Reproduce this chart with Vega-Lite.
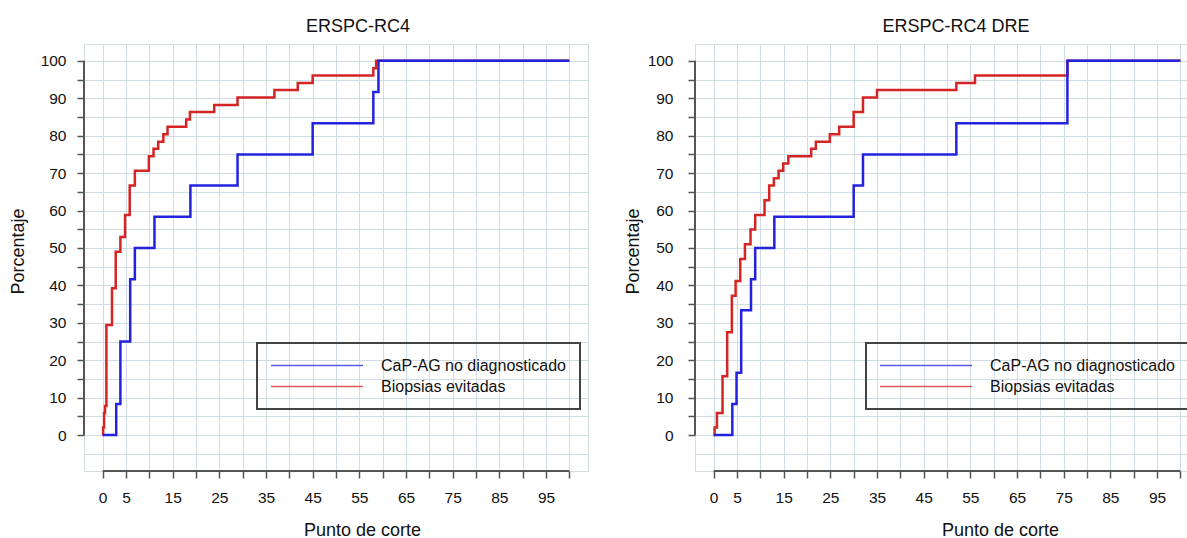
{
  "$schema": "https://vega.github.io/schema/vega-lite/v6.json",
  "padding": {"left": 8, "top": 17, "right": 0, "bottom": 0},
  "bounds": "flush",
  "spacing": 107,
  "resolve": {"scale": {"color": "independent"}, "legend": {"color": "independent"}},
  "datasets": {
    "rc4": [
      {"serie": "CaP-AG no diagnosticado", "corte": 0, "pct": 0},
      {"serie": "CaP-AG no diagnosticado", "corte": 2.9, "pct": 8.33},
      {"serie": "CaP-AG no diagnosticado", "corte": 3.8, "pct": 25},
      {"serie": "CaP-AG no diagnosticado", "corte": 5.9, "pct": 41.67},
      {"serie": "CaP-AG no diagnosticado", "corte": 6.9, "pct": 50},
      {"serie": "CaP-AG no diagnosticado", "corte": 11.1, "pct": 58.33},
      {"serie": "CaP-AG no diagnosticado", "corte": 18.8, "pct": 66.67},
      {"serie": "CaP-AG no diagnosticado", "corte": 28.9, "pct": 75},
      {"serie": "CaP-AG no diagnosticado", "corte": 45, "pct": 83.33},
      {"serie": "CaP-AG no diagnosticado", "corte": 58, "pct": 91.67},
      {"serie": "CaP-AG no diagnosticado", "corte": 59.1, "pct": 100},
      {"serie": "CaP-AG no diagnosticado", "corte": 100, "pct": 100},
      {"serie": "Biopsias evitadas", "corte": 0, "pct": 0},
      {"serie": "Biopsias evitadas", "corte": 0.1, "pct": 2},
      {"serie": "Biopsias evitadas", "corte": 0.3, "pct": 5.9},
      {"serie": "Biopsias evitadas", "corte": 0.5, "pct": 7.8},
      {"serie": "Biopsias evitadas", "corte": 0.8, "pct": 29.4},
      {"serie": "Biopsias evitadas", "corte": 2.0, "pct": 39.2},
      {"serie": "Biopsias evitadas", "corte": 2.8, "pct": 49.0},
      {"serie": "Biopsias evitadas", "corte": 3.8, "pct": 52.9},
      {"serie": "Biopsias evitadas", "corte": 4.8, "pct": 58.8},
      {"serie": "Biopsias evitadas", "corte": 5.8, "pct": 66.7},
      {"serie": "Biopsias evitadas", "corte": 6.9, "pct": 70.6},
      {"serie": "Biopsias evitadas", "corte": 9.9, "pct": 74.5},
      {"serie": "Biopsias evitadas", "corte": 10.9, "pct": 76.5},
      {"serie": "Biopsias evitadas", "corte": 11.9, "pct": 78.4},
      {"serie": "Biopsias evitadas", "corte": 13.0, "pct": 80.4},
      {"serie": "Biopsias evitadas", "corte": 13.9, "pct": 82.4},
      {"serie": "Biopsias evitadas", "corte": 17.9, "pct": 84.3},
      {"serie": "Biopsias evitadas", "corte": 18.7, "pct": 86.3},
      {"serie": "Biopsias evitadas", "corte": 23.9, "pct": 88.2},
      {"serie": "Biopsias evitadas", "corte": 28.9, "pct": 90.2},
      {"serie": "Biopsias evitadas", "corte": 36.8, "pct": 92.2},
      {"serie": "Biopsias evitadas", "corte": 41.8, "pct": 94.1},
      {"serie": "Biopsias evitadas", "corte": 45.0, "pct": 96.1},
      {"serie": "Biopsias evitadas", "corte": 58.0, "pct": 98.0},
      {"serie": "Biopsias evitadas", "corte": 58.6, "pct": 100},
      {"serie": "Biopsias evitadas", "corte": 100, "pct": 100}
    ],
    "rc4dre": [
      {"serie": "CaP-AG no diagnosticado", "corte": 0, "pct": 0},
      {"serie": "CaP-AG no diagnosticado", "corte": 4.0, "pct": 8.33},
      {"serie": "CaP-AG no diagnosticado", "corte": 4.9, "pct": 16.67},
      {"serie": "CaP-AG no diagnosticado", "corte": 5.9, "pct": 33.33},
      {"serie": "CaP-AG no diagnosticado", "corte": 8.0, "pct": 41.67},
      {"serie": "CaP-AG no diagnosticado", "corte": 8.9, "pct": 50},
      {"serie": "CaP-AG no diagnosticado", "corte": 13.0, "pct": 58.33},
      {"serie": "CaP-AG no diagnosticado", "corte": 30.0, "pct": 66.67},
      {"serie": "CaP-AG no diagnosticado", "corte": 32.0, "pct": 75},
      {"serie": "CaP-AG no diagnosticado", "corte": 52.0, "pct": 83.33},
      {"serie": "CaP-AG no diagnosticado", "corte": 75.8, "pct": 100},
      {"serie": "CaP-AG no diagnosticado", "corte": 100, "pct": 100},
      {"serie": "Biopsias evitadas", "corte": 0, "pct": 0},
      {"serie": "Biopsias evitadas", "corte": 0.2, "pct": 2.0},
      {"serie": "Biopsias evitadas", "corte": 0.7, "pct": 5.9},
      {"serie": "Biopsias evitadas", "corte": 1.9, "pct": 15.7},
      {"serie": "Biopsias evitadas", "corte": 2.9, "pct": 27.45},
      {"serie": "Biopsias evitadas", "corte": 3.9, "pct": 37.25},
      {"serie": "Biopsias evitadas", "corte": 4.7, "pct": 41.18},
      {"serie": "Biopsias evitadas", "corte": 5.7, "pct": 47.06},
      {"serie": "Biopsias evitadas", "corte": 6.7, "pct": 50.98},
      {"serie": "Biopsias evitadas", "corte": 7.9, "pct": 54.9},
      {"serie": "Biopsias evitadas", "corte": 8.9, "pct": 58.8},
      {"serie": "Biopsias evitadas", "corte": 10.9, "pct": 62.75},
      {"serie": "Biopsias evitadas", "corte": 11.9, "pct": 66.67},
      {"serie": "Biopsias evitadas", "corte": 12.9, "pct": 68.6},
      {"serie": "Biopsias evitadas", "corte": 13.9, "pct": 70.6},
      {"serie": "Biopsias evitadas", "corte": 14.9, "pct": 72.55},
      {"serie": "Biopsias evitadas", "corte": 16.0, "pct": 74.5},
      {"serie": "Biopsias evitadas", "corte": 20.9, "pct": 76.5},
      {"serie": "Biopsias evitadas", "corte": 21.9, "pct": 78.4},
      {"serie": "Biopsias evitadas", "corte": 24.9, "pct": 80.4},
      {"serie": "Biopsias evitadas", "corte": 26.9, "pct": 82.4},
      {"serie": "Biopsias evitadas", "corte": 30.0, "pct": 86.3},
      {"serie": "Biopsias evitadas", "corte": 32.0, "pct": 90.2},
      {"serie": "Biopsias evitadas", "corte": 35.0, "pct": 92.2},
      {"serie": "Biopsias evitadas", "corte": 52.0, "pct": 94.1},
      {"serie": "Biopsias evitadas", "corte": 56.0, "pct": 96.1},
      {"serie": "Biopsias evitadas", "corte": 75.8, "pct": 100},
      {"serie": "Biopsias evitadas", "corte": 100, "pct": 100}
    ]
  },
  "hconcat": [
    {
      "width": 504,
      "height": 427,
      "title": {"text": "ERSPC-RC4", "frame": "group", "dx": 22, "offset": 8},
      "data": {"name": "rc4"},
      "resolve": {"scale": {"x": "independent", "y": "independent"}},
      "layer": [
        {
          "data": {"values": [{}]},
          "mark": {"type": "rule", "color": "#555555", "strokeWidth": 2},
          "encoding": {
            "x": {"datum": -4, "scale": {"domain": [-4, 104], "nice": false, "zero": false}, "axis": null},
            "y": {"datum": 0, "scale": {"domain": [-9.6, 104.5], "nice": false, "zero": false}, "axis": null},
            "y2": {"datum": 100}
          }
        },
        {
          "data": {"values": [{}]},
          "mark": {"type": "rule", "color": "#555555", "strokeWidth": 2},
          "encoding": {
            "y": {"datum": -9.6, "scale": {"domain": [-9.6, 104.5], "nice": false, "zero": false}, "axis": null},
            "x": {"datum": 0, "scale": {"domain": [-4, 104], "nice": false, "zero": false}, "axis": null},
            "x2": {"datum": 100}
          }
        },
        {
          "transform": [{"filter": "datum.serie === 'Biopsias evitadas'"}],
          "mark": {"type": "line", "interpolate": "step-after", "strokeWidth": 2.5},
          "encoding": {
            "x": {"field": "corte", "type": "quantitative", "scale": {"domain": [-4, 104], "nice": false, "zero": false},
              "axis": {"orient": "bottom", "title": "Punto de corte", "titleX": 278, "titlePadding": 16, "labelOverlap": false, "grid": true,
                "values": [0,5,15,25,35,45,55,65,75,85,95]}},
            "y": {"field": "pct", "type": "quantitative", "scale": {"domain": [-9.6, 104.5], "nice": false, "zero": false},
              "axis": {"orient": "left", "title": "Porcentaje", "titleY": 207, "titlePadding": 13, "labelPadding": 11, "labelOverlap": false, "grid": true,
                "values": [0,10,20,30,40,50,60,70,80,90,100]}},
            "color": {"field": "serie", "type": "nominal",
              "scale": {"domain": ["CaP-AG no diagnosticado", "Biopsias evitadas"], "range": ["#2323dd", "#d42424"]},
              "legend": {"title": null, "orient": "none", "legendX": 173, "legendY": 299}}
          }
        },
        {
          "transform": [{"filter": "datum.serie === 'CaP-AG no diagnosticado'"}],
          "mark": {"type": "line", "interpolate": "step-after", "strokeWidth": 2.5},
          "encoding": {
            "x": {"field": "corte", "type": "quantitative", "scale": {"domain": [-4, 104], "nice": false, "zero": false},
              "axis": {"orient": "bottom", "title": null, "labels": false, "grid": true, "values": [10,20,30,40,50,60,70,80,90,100]}},
            "y": {"field": "pct", "type": "quantitative", "scale": {"domain": [-9.6, 104.5], "nice": false, "zero": false},
              "axis": {"orient": "left", "title": null, "labels": false, "grid": true, "values": [-5,5,15,25,35,45,55,65,75,85,95],
                "tickOpacity": {"condition": {"test": "datum.value < 0", "value": 0}, "value": 1}}},
            "color": {"field": "serie", "type": "nominal"}
          }
        }
      ]
    },
    {
      "width": 504,
      "height": 427,
      "title": {"text": "ERSPC-RC4 DRE", "frame": "group", "dx": 9, "offset": 8},
      "data": {"name": "rc4dre"},
      "resolve": {"scale": {"x": "independent", "y": "independent"}},
      "layer": [
        {
          "data": {"values": [{}]},
          "mark": {"type": "rule", "color": "#555555", "strokeWidth": 2},
          "encoding": {
            "x": {"datum": -4, "scale": {"domain": [-4, 104], "nice": false, "zero": false}, "axis": null},
            "y": {"datum": 0, "scale": {"domain": [-9.6, 104.5], "nice": false, "zero": false}, "axis": null},
            "y2": {"datum": 100}
          }
        },
        {
          "data": {"values": [{}]},
          "mark": {"type": "rule", "color": "#555555", "strokeWidth": 2},
          "encoding": {
            "y": {"datum": -9.6, "scale": {"domain": [-9.6, 104.5], "nice": false, "zero": false}, "axis": null},
            "x": {"datum": 0, "scale": {"domain": [-4, 104], "nice": false, "zero": false}, "axis": null},
            "x2": {"datum": 100}
          }
        },
        {
          "transform": [{"filter": "datum.serie === 'Biopsias evitadas'"}],
          "mark": {"type": "line", "interpolate": "step-after", "strokeWidth": 2.5},
          "encoding": {
            "x": {"field": "corte", "type": "quantitative", "scale": {"domain": [-4, 104], "nice": false, "zero": false},
              "axis": {"orient": "bottom", "title": "Punto de corte", "titleX": 305, "titlePadding": 16, "labelOverlap": false, "grid": true,
                "values": [0,5,15,25,35,45,55,65,75,85,95]}},
            "y": {"field": "pct", "type": "quantitative", "scale": {"domain": [-9.6, 104.5], "nice": false, "zero": false},
              "axis": {"orient": "left", "title": "Porcentaje", "titleY": 207, "titlePadding": 5, "labelPadding": 15, "labelOverlap": false, "grid": true,
                "values": [0,10,20,30,40,50,60,70,80,90,100]}},
            "color": {"field": "serie", "type": "nominal",
              "scale": {"domain": ["CaP-AG no diagnosticado", "Biopsias evitadas"], "range": ["#2323dd", "#d42424"]},
              "legend": {"title": null, "orient": "none", "legendX": 171, "legendY": 299}}
          }
        },
        {
          "transform": [{"filter": "datum.serie === 'CaP-AG no diagnosticado'"}],
          "mark": {"type": "line", "interpolate": "step-after", "strokeWidth": 2.5},
          "encoding": {
            "x": {"field": "corte", "type": "quantitative", "scale": {"domain": [-4, 104], "nice": false, "zero": false},
              "axis": {"orient": "bottom", "title": null, "labels": false, "grid": true, "values": [10,20,30,40,50,60,70,80,90,100]}},
            "y": {"field": "pct", "type": "quantitative", "scale": {"domain": [-9.6, 104.5], "nice": false, "zero": false},
              "axis": {"orient": "left", "title": null, "labels": false, "grid": true, "values": [-5,5,15,25,35,45,55,65,75,85,95],
                "tickOpacity": {"condition": {"test": "datum.value < 0", "value": 0}, "value": 1}}},
            "color": {"field": "serie", "type": "nominal"}
          }
        }
      ]
    }
  ],
  "config": {
    "font": "Liberation Sans",
    "view": {"stroke": "#d3dde2", "strokeWidth": 1},
    "title": {"font": "Liberation Sans", "fontSize": 18, "fontWeight": "normal", "color": "#111111"},
    "axis": {
      "labelFont": "Liberation Sans", "labelFontSize": 15.5, "labelColor": "#111111",
      "titleFont": "Liberation Sans", "titleFontSize": 18, "titleFontWeight": "normal", "titleColor": "#111111",
      "tickColor": "#555555", "tickWidth": 1.5, "tickSize": 7,
      "domain": false, "grid": true, "gridColor": "#cfdce4", "gridWidth": 1,
      "labelOverlap": false, "labelFlush": false
    },
    "axisX": {"labelPadding": 12},
    "legend": {
      "padding": 14, "strokeColor": "#444444", "strokeWidth": 2,
      "labelFont": "Liberation Sans", "labelFontSize": 16, "labelColor": "#111111", "labelLimit": 400,
      "symbolType": "M-6,0H6", "symbolSize": 235, "symbolStrokeWidth": 1.6, "symbolOpacity": 0.75,
      "symbolOffset": 37.5, "labelOffset": 55.5, "rowPadding": 4
    }
  }
}
